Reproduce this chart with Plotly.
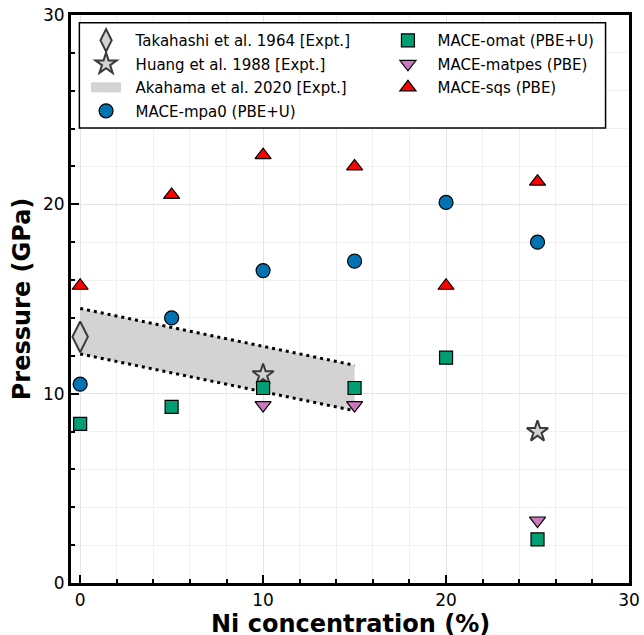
import plotly.graph_objects as go

# ---- data ----
ni_all = [0, 5, 10, 15, 20, 25]
mpa0 = [10.5, 14.0, 16.5, 17.0, 20.1, 18.0]
omat = [8.4, 9.3, 10.3, 10.3, 11.9, 2.3]
matpes_x = [10, 15, 25]
matpes = [9.4, 9.4, 3.3]
sqs = [15.7, 20.5, 22.6, 22.0, 15.7, 21.2]
taka_x = [0]
taka_y = [13.0]
huang_x = [10, 25]
huang_y = [11.0, 8.0]
aka_x = [0, 15]
aka_upper = [14.5, 11.5]
aka_lower = [12.1, 9.1]

FONT = "DejaVu Sans"
BLUE = "#0173B2"
GREEN = "#029E73"
PINK = "#CC78BC"
RED = "#FF0000"
GREY = "#D3D3D3"
SP = "\u00a0\u00a0"

fig = go.Figure()

# Akahama band (fill)
fig.add_trace(go.Scatter(
    x=aka_x + aka_x[::-1], y=aka_upper + aka_lower[::-1],
    fill="toself", fillcolor=GREY, mode="lines", line=dict(width=0, color=GREY),
    showlegend=False, legendgroup="g3", hoverinfo="skip"))
# legend entry for the band
fig.add_trace(go.Scatter(
    x=[None], y=[None], mode="lines", line=dict(width=10, color=GREY),
    name=SP + "Akahama et al. 2020 [Expt.]", legend="legend", legendrank=3,
    legendgroup="g3", hoverinfo="skip"))
fig.add_trace(go.Scatter(x=aka_x, y=aka_upper, mode="lines",
                         line=dict(color="black", width=3, dash="3px,4px"),
                         showlegend=False, hoverinfo="skip"))
fig.add_trace(go.Scatter(x=aka_x, y=aka_lower, mode="lines",
                         line=dict(color="black", width=3, dash="3px,4px"),
                         showlegend=False, hoverinfo="skip"))

mk_line = dict(color="black", width=1.2)

fig.add_trace(go.Scatter(x=taka_x, y=taka_y, mode="markers", name=SP + "Takahashi et al. 1964 [Expt.]",
                         marker=dict(symbol="diamond-tall", size=22, color=GREY,
                                     line=dict(color="#3a3a3a", width=2)),
                         legend="legend", legendrank=1, legendgroup="g1"))
fig.add_trace(go.Scatter(x=huang_x, y=huang_y, mode="markers", name=SP + "Huang et al. 1988 [Expt.]",
                         marker=dict(symbol="star", size=16, color=GREY,
                                     line=dict(color="#3a3a3a", width=2)),
                         legend="legend", legendrank=2, legendgroup="g2"))
fig.add_trace(go.Scatter(x=ni_all, y=mpa0, mode="markers", name=SP + "MACE-mpa0 (PBE+U)",
                         marker=dict(symbol="circle", size=14, color=BLUE, line=mk_line),
                         legend="legend", legendrank=4, legendgroup="g4"))
fig.add_trace(go.Scatter(x=ni_all, y=omat, mode="markers", name=SP + "MACE-omat (PBE+U)",
                         marker=dict(symbol="square", size=13, color=GREEN, line=mk_line),
                         legend="legend2", legendrank=5, legendgroup="g5"))
fig.add_trace(go.Scatter(x=matpes_x, y=matpes, mode="markers", name=SP + "MACE-matpes (PBE)",
                         marker=dict(symbol="triangle-down", size=14, color=PINK, line=mk_line),
                         legend="legend2", legendrank=6, legendgroup="g6"))
fig.add_trace(go.Scatter(x=ni_all, y=sqs, mode="markers", name=SP + "MACE-sqs (PBE)",
                         marker=dict(symbol="triangle-up", size=14, color=RED, line=mk_line),
                         legend="legend2", legendrank=7, legendgroup="g7"))

axis_common = dict(
    showline=True, linecolor="black", linewidth=3, mirror=True,
    ticks="inside", ticklen=8, tickwidth=2, tickcolor="black",
    showgrid=True, gridcolor="#e4e4e4", gridwidth=1,
    zeroline=False,
    tickfont=dict(family=FONT, size=17, color="black"),
    minor=dict(dtick=2, ticks="inside", ticklen=4, tickwidth=1.5, tickcolor="black",
               showgrid=True, gridcolor="#f0f0f0", gridwidth=1),
)

fig.update_xaxes(range=[-0.5, 30], tickvals=[0, 10, 20, 30], dtick=10, **axis_common)
fig.update_yaxes(range=[0, 30], tickvals=[0, 10, 20, 30], dtick=10, **axis_common,
                 title=dict(text="<b>Pressure (GPa)</b>",
                            font=dict(family=FONT, size=24, color="black"), standoff=6))

leg_common = dict(font=dict(family=FONT, size=15, color="black"),
                  bgcolor="rgba(0,0,0,0)", borderwidth=0, tracegroupgap=1,
                  xanchor="left", yanchor="top", traceorder="grouped")

fig.update_layout(
    width=644, height=635,
    margin=dict(l=71, r=15, t=15, b=52, autoexpand=False),
    plot_bgcolor="white", paper_bgcolor="white",
    legend=dict(x=0.027, y=0.984, **leg_common),
    legend2=dict(x=0.568, y=0.984, **leg_common),
    shapes=[dict(type="rect", xref="paper", yref="paper",
                 x0=0.015, x1=0.958, y0=0.801, y1=0.9864,
                 line=dict(color="black", width=1.5), fillcolor="white", layer="above")],
    annotations=[dict(text="<b>Ni concentration (%)</b>", xref="paper", yref="paper",
                      x=0.5, y=-0.072, xanchor="center", yanchor="middle", showarrow=False,
                      font=dict(family=FONT, size=24, color="black"))],
)

fig.write_html("out.html")
